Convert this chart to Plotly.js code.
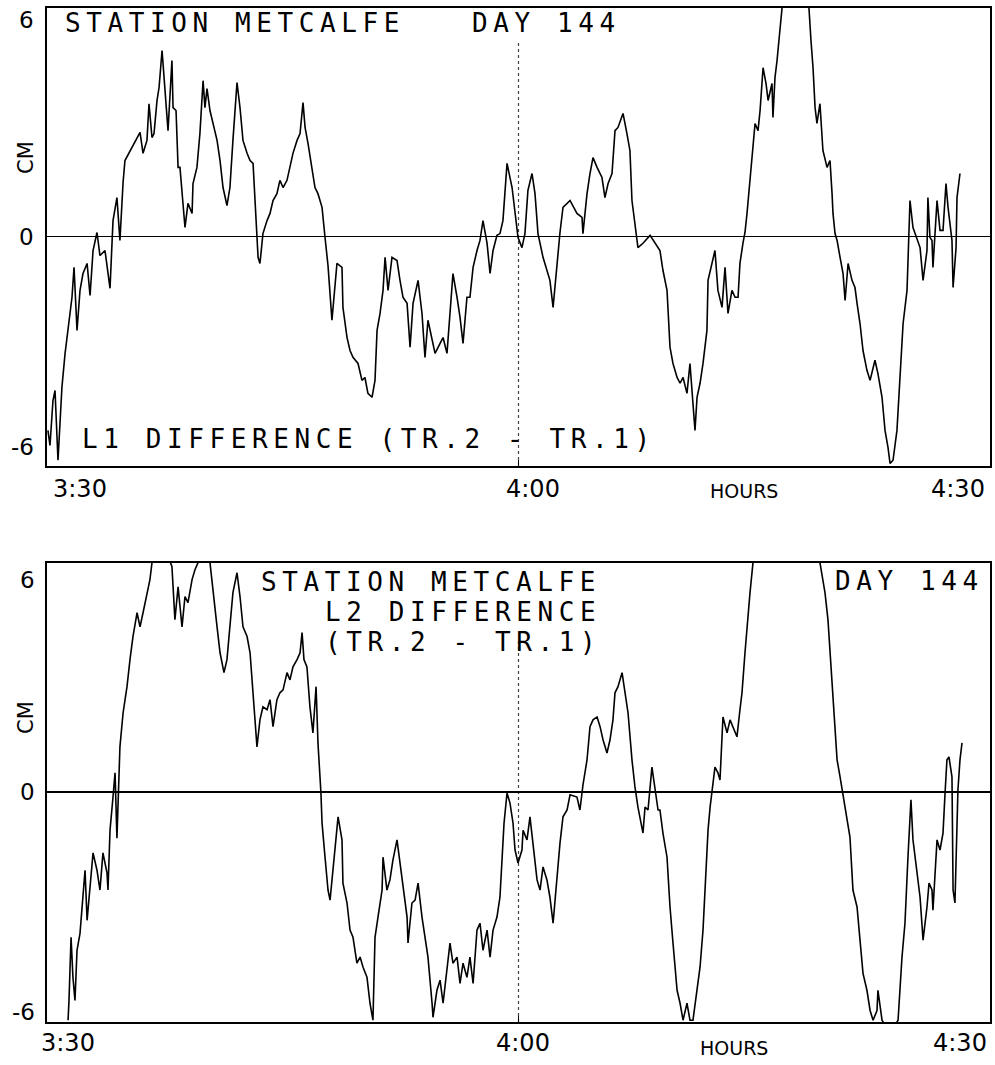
<!DOCTYPE html>
<html>
<head>
<meta charset="utf-8">
<script src="https://cdn.plot.ly/plotly-3.0.1.min.js"></script>
<style>
html,body{margin:0;padding:0;background:#fff;}
#chart{width:995px;height:1065px;}
</style>
</head>
<body>
<div id="chart"></div>
<script>
// ---- DATA (time in minutes after 3:30, difference in cm) ----
const minutesTop = [0.06,0.19,0.38,0.51,0.70,0.95,1.15,1.34,1.59,1.72,1.91,2.10,2.29,2.55,2.74,2.93,3.18,3.37,3.69,4.01,4.20,4.45,4.64,4.84,4.96,5.92,6.11,6.36,6.49,6.68,6.81,7.00,7.13,7.32,7.51,7.70,7.95,8.02,8.21,8.34,8.46,8.65,8.78,8.97,9.23,9.29,9.54,9.73,9.93,10.05,10.18,10.37,10.56,10.82,11.01,11.20,11.45,11.64,11.83,12.09,12.28,12.47,12.73,12.92,13.11,13.23,13.36,13.43,13.55,13.74,14.00,14.19,14.38,14.63,14.82,15.02,15.27,15.46,15.65,15.91,16.10,16.29,16.42,16.61,16.86,17.05,17.24,17.50,17.69,17.88,18.13,18.45,18.77,18.83,19.09,19.28,19.47,19.79,20.04,20.23,20.42,20.68,20.87,21.00,21.19,21.38,21.51,21.70,21.95,22.27,22.46,22.65,22.91,23.10,23.29,23.61,23.86,24.05,24.24,24.50,24.69,25.01,25.20,25.45,25.64,25.83,26.09,26.28,26.47,26.72,26.91,27.11,27.36,27.55,27.74,28.00,28.19,28.38,28.63,28.82,29.01,29.27,29.59,29.78,29.97,30.22,30.41,30.60,30.86,31.05,31.24,31.56,32.00,32.20,32.45,32.64,32.83,33.28,33.72,34.04,34.10,34.36,34.55,34.74,35.00,35.31,35.50,35.70,35.95,36.14,36.33,36.65,36.90,37.09,37.22,37.41,37.60,37.92,38.37,39.00,39.19,39.45,39.51,39.64,39.83,40.09,40.28,40.47,40.72,40.91,41.10,41.23,41.36,41.55,41.74,41.99,42.06,42.31,42.50,42.69,42.95,43.14,43.33,43.58,43.78,43.97,44.09,44.28,44.41,44.54,44.73,44.92,45.05,45.24,45.37,45.56,45.75,45.88,46.13,46.19,46.32,46.45,46.58,46.77,47.59,48.48,48.61,48.74,48.87,48.99,49.18,49.31,49.37,49.63,49.82,49.95,50.01,50.14,50.27,50.46,50.65,50.78,50.97,51.22,51.41,51.54,51.73,51.92,52.17,52.37,52.68,52.87,53.13,53.32,53.51,53.64,53.83,54.08,54.27,54.47,54.72,54.78,54.91,55.10,55.36,55.55,55.74,55.99,56.05,56.18,56.31,56.37,56.63,56.82,57.01,57.20,57.33,57.58,57.65,57.84,57.90,58.09];
const l1Diff = [-5.39,-5.81,-4.56,-4.28,-6.22,-4.19,-3.25,-2.53,-1.69,-0.86,-2.61,-1.50,-1.03,-0.75,-1.64,-0.39,0.11,-0.53,-0.39,-1.44,0.44,1.08,-0.11,1.50,2.11,2.89,2.31,2.67,3.69,2.75,2.86,3.78,4.14,5.17,4.14,2.94,4.89,3.58,3.50,1.92,1.92,1.00,0.25,0.92,0.64,1.47,1.92,2.86,4.33,3.58,4.11,3.50,3.14,2.67,2.11,1.36,0.86,1.36,2.67,4.28,3.58,2.67,2.31,2.11,2.03,0.92,0.08,-0.58,-0.75,0.08,0.44,0.64,1.00,1.19,1.56,1.36,1.56,1.92,2.31,2.67,2.86,3.72,3.03,2.58,1.92,1.36,1.19,0.81,-0.03,-0.81,-2.33,-0.75,-0.86,-1.97,-2.81,-3.17,-3.36,-3.53,-4.00,-3.92,-4.36,-4.47,-4.00,-2.61,-2.14,-1.50,-0.58,-1.50,-0.58,-0.67,-1.22,-1.69,-1.86,-3.08,-1.86,-1.22,-2.14,-3.36,-2.33,-2.81,-3.25,-2.97,-2.81,-3.25,-2.14,-1.03,-1.69,-2.25,-2.97,-1.69,-1.69,-0.86,-0.39,-0.11,0.44,-0.19,-1.03,-0.39,0.03,0.08,0.44,2.03,1.36,0.64,-0.03,-0.31,0.08,1.28,1.75,1.19,0.08,-0.58,-1.22,-1.97,-0.75,0.11,0.81,1.00,0.64,0.53,0.08,1.19,1.75,2.19,1.92,1.64,1.08,1.47,1.75,2.94,3.03,3.42,2.86,2.39,1.00,0.36,-0.31,-0.19,0.03,-0.39,-0.94,-1.50,-2.14,-3.08,-3.53,-3.92,-4.08,-3.92,-4.36,-3.53,-4.64,-5.39,-4.47,-4.08,-3.53,-2.61,-1.22,-0.75,-0.39,-1.50,-1.97,-0.86,-2.14,-1.50,-1.69,-1.69,-0.75,-0.19,0.11,0.64,1.64,2.58,3.14,2.94,3.50,4.69,4.25,3.78,4.25,3.31,4.42,4.89,5.53,6.36,7.67,6.36,5.44,4.69,3.58,3.14,3.69,2.86,2.39,1.92,2.11,1.19,0.64,0.08,-0.11,-0.58,-1.03,-1.78,-0.75,-1.22,-1.42,-1.86,-2.42,-3.17,-3.72,-4.00,-3.44,-3.81,-4.47,-5.39,-5.86,-6.31,-6.22,-5.39,-4.00,-2.42,-1.50,-0.75,1.00,0.25,-0.11,-0.31,-1.22,-0.39,1.08,-0.03,-0.11,-0.86,1.00,0.17,0.17,1.47,0.81,-0.11,-1.42,-0.31,1.08,1.75];

const minutesBot = [1.34,1.40,1.53,1.65,1.78,1.91,2.10,2.23,2.42,2.55,2.74,2.93,3.18,3.37,3.56,3.82,3.88,4.01,4.20,4.33,4.45,4.52,4.64,4.84,5.09,5.28,5.47,5.73,5.92,6.11,6.36,6.55,6.68,7.32,7.95,8.14,8.34,8.59,8.78,8.97,9.23,9.42,9.61,9.99,10.37,10.56,10.82,11.01,11.26,11.45,11.64,11.83,12.09,12.28,12.47,12.73,12.92,13.11,13.36,13.55,13.74,14.00,14.19,14.38,14.63,14.82,15.02,15.27,15.46,15.65,15.91,16.10,16.23,16.35,16.54,16.73,16.92,17.12,17.24,17.43,17.50,17.69,17.88,18.01,18.32,18.52,18.77,18.83,19.09,19.28,19.47,19.72,19.92,20.11,20.36,20.55,20.74,20.87,21.06,21.32,21.38,21.63,21.82,22.01,22.27,22.46,22.65,22.91,22.97,23.22,23.42,23.61,23.86,24.05,24.24,24.50,24.56,24.81,25.01,25.20,25.45,25.64,25.83,26.09,26.28,26.47,26.72,26.91,27.11,27.36,27.55,27.74,28.00,28.19,28.38,28.63,28.82,28.95,29.08,29.27,29.46,29.65,29.78,29.97,30.22,30.29,30.54,30.73,30.92,31.18,31.37,31.56,31.81,32.00,32.20,32.45,32.64,32.83,33.09,33.28,33.72,33.91,34.10,34.36,34.55,34.74,35.00,35.19,35.38,35.63,35.82,36.01,36.14,36.33,36.59,36.78,36.97,37.22,37.41,37.60,37.73,37.92,38.05,38.24,38.49,38.69,38.88,39.00,39.19,39.45,39.64,39.83,40.09,40.28,40.47,40.72,40.91,41.10,41.36,41.55,41.74,41.99,42.06,42.19,42.31,42.50,42.69,42.82,43.01,43.27,43.46,43.65,43.90,44.09,44.22,44.41,44.54,44.73,44.92,47.02,49.18,49.50,49.69,49.82,50.01,50.14,50.27,50.46,50.65,50.90,51.09,51.28,51.54,51.73,51.92,52.17,52.37,52.56,52.81,52.87,53.13,53.64,54.15,54.40,54.59,54.78,54.97,55.10,55.36,55.55,55.74,55.99,56.12,56.31,56.37,56.63,56.82,57.01,57.14,57.26,57.39,57.58,57.65,57.77,57.96,58.09,58.22];
const l2Diff = [-6.33,-5.78,-4.03,-5.14,-5.78,-4.39,-3.92,-3.19,-2.17,-3.56,-2.72,-1.69,-2.17,-2.72,-1.69,-2.25,-2.72,-1.06,-0.14,0.53,-1.28,-0.50,1.25,2.19,2.92,3.67,4.31,4.97,4.58,4.97,5.53,5.89,6.36,7.00,6.25,4.78,5.69,4.58,5.42,5.25,5.89,6.17,6.36,6.58,6.36,5.53,4.58,3.86,3.31,3.67,4.58,5.53,6.08,5.42,4.58,4.31,3.86,2.75,1.25,2.00,2.36,2.28,2.56,1.81,2.56,2.75,2.83,3.31,3.11,3.47,3.67,3.86,4.42,3.67,3.47,2.36,1.64,2.92,1.36,-0.03,-0.86,-1.81,-2.72,-3.00,-1.61,-0.69,-1.33,-2.53,-3.08,-3.83,-4.03,-4.75,-4.58,-4.86,-5.14,-5.86,-6.33,-4.03,-3.47,-2.72,-1.81,-2.72,-2.44,-1.89,-1.33,-1.97,-2.72,-3.47,-4.19,-3.08,-3.00,-2.53,-3.47,-4.03,-4.58,-5.86,-6.25,-5.50,-5.22,-5.86,-4.94,-4.19,-4.75,-4.58,-5.31,-4.75,-5.14,-4.58,-5.31,-3.83,-3.64,-4.39,-3.83,-4.58,-3.83,-3.47,-2.92,-1.81,-0.86,-0.03,-0.31,-0.86,-1.61,-1.97,-1.61,-1.06,-1.33,-0.69,-1.42,-2.44,-2.72,-2.08,-2.44,-2.92,-3.64,-2.25,-1.42,-0.69,-0.50,-0.08,-0.14,-0.50,0.19,0.89,1.81,2.00,2.08,1.81,1.44,1.08,1.44,2.00,2.75,2.92,3.31,2.75,2.19,0.89,0.14,-0.42,-0.69,-1.14,-0.42,-0.50,0.69,0.06,-0.50,-0.50,-1.14,-1.81,-3.19,-4.19,-5.50,-5.86,-6.33,-5.86,-6.33,-6.33,-5.50,-4.86,-3.83,-1.81,-1.06,-0.42,0.06,0.69,0.53,0.33,2.08,1.64,2.00,1.81,1.53,2.28,2.75,3.86,4.58,5.53,6.36,8.00,6.36,5.53,4.78,3.86,2.75,1.81,0.89,0.42,-0.08,-0.86,-1.25,-2.72,-3.19,-4.11,-5.03,-5.50,-6.06,-6.33,-6.06,-5.50,-6.33,-6.70,-6.33,-4.58,-3.64,-1.81,-0.22,-1.33,-2.25,-2.92,-4.11,-3.19,-2.53,-2.72,-3.28,-1.33,-1.61,-1.14,-0.03,0.89,0.97,0.42,-2.72,-3.08,0.06,0.89,1.36];

const xTickVals = [0, 30, 60];
const xTickText = ['3:30', '4:00', '4:30'];
const yTickVals = [6, 0, -6];
const yTickText = ['6', '0', '-6'];
const yTitle = 'CM';
const xUnit = 'HOURS';
const topTitle = ['STATION METCALFE', 'DAY 144', 'L1 DIFFERENCE (TR.2 - TR.1)'];
const botTitle = ['STATION METCALFE', 'L2 DIFFERENCE', '(TR.2 - TR.1)', 'DAY 144'];

// ---- LAYOUT HELPERS (pixel -> paper) ----
const ML = 47, MR = 5, MT = 8, MB = 43, W = 995, H = 1065;
const PW = W - ML - MR, PH = H - MT - MB;
const pxX = p => (p - ML) / PW;
const pxY = p => (H - MB - p) / PH;

const traceLine = {color: '#000', width: 1.6};
const traces = [
  {x: minutesTop, y: l1Diff, xaxis: 'x', yaxis: 'y', mode: 'lines', line: traceLine, hoverinfo: 'skip'},
  {x: minutesBot, y: l2Diff, xaxis: 'x2', yaxis: 'y2', mode: 'lines', line: traceLine, hoverinfo: 'skip'}
];

const xBase = {range: [0, 60], showline: true, mirror: true, linecolor: '#000', linewidth: 2,
  showgrid: false, zeroline: false, ticks: 'inside', tickvals: [xTickVals[1]], ticklen: 6,
  tickcolor: '#000', tickwidth: 1.5, showticklabels: false, fixedrange: true};
const yBase = {range: [-6.38, 6.35], showline: true, mirror: true, linecolor: '#000', linewidth: 2,
  showgrid: false, zeroline: true, zerolinecolor: '#000', zerolinewidth: 1.5,
  ticks: '', showticklabels: false, fixedrange: true};

const mono = {family: 'DejaVu Sans Mono', size: 26, color: '#000'};
const sp = t => '<span style="letter-spacing:5.6px">' + t + '</span>';
const LS = 5.6;

const ann = [];
function addText(text, xp, yp, opts) {
  ann.push(Object.assign({text: text, xref: 'paper', yref: 'paper', x: pxX(xp), y: pxY(yp),
    showarrow: false, xanchor: 'center', yanchor: 'middle'}, opts || {}));
}
// titles
addText(sp(topTitle[0]), 63, 23, {xanchor: 'left', font: mono});
addText(sp(topTitle[1]), 470, 23, {xanchor: 'left', font: mono});
addText(sp(topTitle[2]), 80, 439, {xanchor: 'left', font: mono});
addText(sp(botTitle[0]), 597 + LS, 582, {xanchor: 'right', font: mono});
addText(sp(botTitle[1]), 597 + LS, 612, {xanchor: 'right', font: mono});
addText(sp(botTitle[2]), 597 + LS, 642, {xanchor: 'right', font: mono});
addText(sp(botTitle[3]), 833, 581, {xanchor: 'left', font: mono});

const lab = {family: 'DejaVu Sans', size: 23, color: '#000'};
const labX = {family: 'DejaVu Sans', size: 24, color: '#000'};
// y tick labels
const yPosTop = [20, 237, 447], yPosBot = [580, 792, 1012];
yTickText.forEach((t, i) => {
  addText(t, 36, yPosTop[i], {xanchor: 'right', font: lab});
  addText(t, 37, yPosBot[i], {xanchor: 'right', font: lab});
});
// y titles
addText(yTitle, 26, 158, {textangle: -90, font: {family: 'DejaVu Sans', size: 21, color: '#000'}});
addText(yTitle, 26, 718, {textangle: -90, font: {family: 'DejaVu Sans', size: 21, color: '#000'}});
// x tick labels
const xPosTop = [80, 533, 958], xPosBot = [68, 523, 960];
xTickText.forEach((t, i) => {
  addText(t, xPosTop[i], 489, {font: labX});
  addText(t, xPosBot[i], 1043, {font: labX});
});
addText(xUnit, 744, 491, {font: {family: 'DejaVu Sans', size: 19, color: '#000'}});
addText(xUnit, 734, 1048, {font: {family: 'DejaVu Sans', size: 19, color: '#000'}});

const layout = {
  width: W, height: H,
  margin: {l: ML, r: MR, t: MT, b: MB, pad: 0},
  paper_bgcolor: '#fff', plot_bgcolor: '#fff',
  showlegend: false,
  font: {family: 'DejaVu Sans', color: '#000'},
  xaxis: Object.assign({}, xBase, {domain: [0, 1], anchor: 'y'}),
  yaxis: Object.assign({}, yBase, {domain: [pxY(466), 1], anchor: 'x'}),
  xaxis2: Object.assign({}, xBase, {domain: [0, 1], anchor: 'y2'}),
  yaxis2: Object.assign({}, yBase, {domain: [0, pxY(563)], anchor: 'x2'}),
  shapes: [
    {type: 'line', xref: 'x', yref: 'y domain', x0: xTickVals[1], x1: xTickVals[1], y0: 0, y1: 0.93,
     line: {color: '#444', width: 1.2, dash: 'dot'}, layer: 'below'},
    {type: 'line', xref: 'x2', yref: 'y2 domain', x0: xTickVals[1], x1: xTickVals[1], y0: 0, y1: 0.83,
     line: {color: '#444', width: 1.2, dash: 'dot'}, layer: 'below'}
  ],
  annotations: ann
};

Plotly.newPlot('chart', traces, layout, {displayModeBar: false, staticPlot: true});
</script>
</body>
</html>
